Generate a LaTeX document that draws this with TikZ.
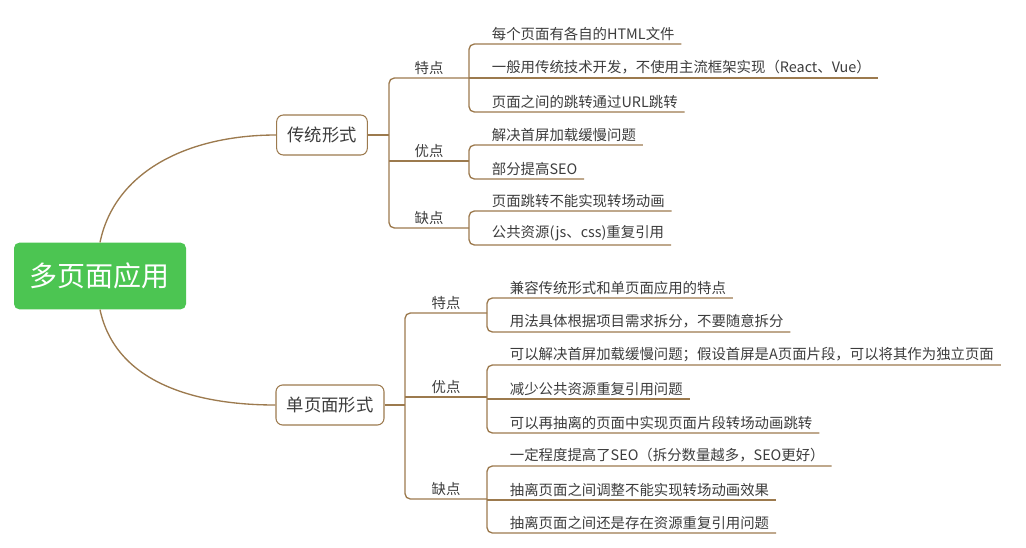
\documentclass[tikz,border=0pt]{standalone}
\usepackage{fontspec}
\setmainfont{Noto Sans CJK SC}
\usetikzlibrary{positioning}
\definecolor{twig}{HTML}{9C7A4E}
\definecolor{ink}{HTML}{3C3C3C}
\definecolor{leafgreen}{HTML}{4CC552}
\tikzset{
    root/.style={
        rectangle, rounded corners=4pt, fill=leafgreen, text=white,
        minimum width=129pt, minimum height=50pt, font=\fontsize{21}{24}\selectfont
    },
    branch/.style={
        rectangle, rounded corners=5pt, draw=twig, thick, fill=white, text=ink,
        minimum height=30pt, font=\fontsize{13}{15}\selectfont
    },
    tag/.style={anchor=south, text=ink, inner sep=2pt, font=\fontsize{10.8}{13}\selectfont},
    leaf/.style={anchor=south west, text=ink, inner xsep=5pt, inner ysep=2.5pt,
        font=\fontsize{10.8}{13}\selectfont},
    link/.style={draw=twig, line width=1pt, rounded corners=4pt}
}
\begin{document}
\begin{tikzpicture}[x=0.75pt,y=-0.75pt]
\useasboundingbox (0,0) rectangle (1026,547);

% Root
\node[root] (app) at (100,276) {多页面应用};

% Branches
\node[branch, minimum width=68pt] (trad) at (322,135) {传统形式};
\node[branch, minimum width=81pt] (spa) at (330,405) {单页面形式};

\draw[link] (app.north) .. controls (115,170) and (190,135) .. (trad.west);
\draw[link] (app.south) .. controls (115,380) and (190,405) .. (spa.west);

% Traditional form: groups
\coordinate (tj) at (389,135);
\node[tag] (tfeat) at (429,78) {特点};
\node[tag] (tpro) at (429,161) {优点};
\node[tag] (tcon) at (429,228) {缺点};
\draw[link] (trad.east) -- (tj);
\draw[link] (469,78) -- (389,78) -- (389,228) -- (469,228);
\draw[link] (389,161) -- (469,161);

% Traditional form: leaves
\node[leaf] (tf1) at (485,44) {每个页面有各自的HTML文件};
\node[leaf] (tf2) at (485,78) {一般用传统技术开发，不使用主流框架实现（React、Vue）};
\node[leaf] (tf3) at (485,112) {页面之间的跳转通过URL跳转};
\draw[link] (tf1.south east) -- (469,44) -- (469,112) -- (tf3.south east);
\draw[link] (469,78) -- (tf2.south east);

\node[leaf] (tp1) at (485,145) {解决首屏加载缓慢问题};
\node[leaf] (tp2) at (485,179) {部分提高SEO};
\draw[link] (tp1.south east) -- (469,145) -- (469,179) -- (tp2.south east);

\node[leaf] (tc1) at (485,211) {页面跳转不能实现转场动画};
\node[leaf] (tc2) at (485,245) {公共资源(js、css)重复引用};
\draw[link] (tc1.south east) -- (469,211) -- (469,245) -- (tc2.south east);

% Single-page form: groups
\node[tag] (sfeat) at (446,313) {特点};
\node[tag] (spro) at (446,397) {优点};
\node[tag] (scon) at (446,499) {缺点};
\draw[link] (spa.east) -- (405,405);
\draw[link] (487,313) -- (405,313) -- (405,499) -- (487,499);
\draw[link] (405,397) -- (487,397);

% Single-page form: leaves
\node[leaf] (sf1) at (503,298) {兼容传统形式和单页面应用的特点};
\node[leaf] (sf2) at (503,332) {用法具体根据项目需求拆分，不要随意拆分};
\draw[link] (sf1.south east) -- (487,298) -- (487,332) -- (sf2.south east);

\node[leaf] (sp1) at (503,365) {可以解决首屏加载缓慢问题；假设首屏是A页面片段，可以将其作为独立页面};
\node[leaf] (sp2) at (503,399) {减少公共资源重复引用问题};
\node[leaf] (sp3) at (503,433) {可以再抽离的页面中实现页面片段转场动画跳转};
\draw[link] (sp1.south east) -- (487,365) -- (487,433) -- (sp3.south east);
\draw[link] (487,399) -- (sp2.south east);

\node[leaf] (sc1) at (503,466) {一定程度提高了SEO（拆分数量越多，SEO更好）};
\node[leaf] (sc2) at (503,500) {抽离页面之间调整不能实现转场动画效果};
\node[leaf] (sc3) at (503,533) {抽离页面之间还是存在资源重复引用问题};
\draw[link] (sc1.south east) -- (487,466) -- (487,533) -- (sc3.south east);
\draw[link] (487,500) -- (sc2.south east);
\end{tikzpicture}
\end{document}
